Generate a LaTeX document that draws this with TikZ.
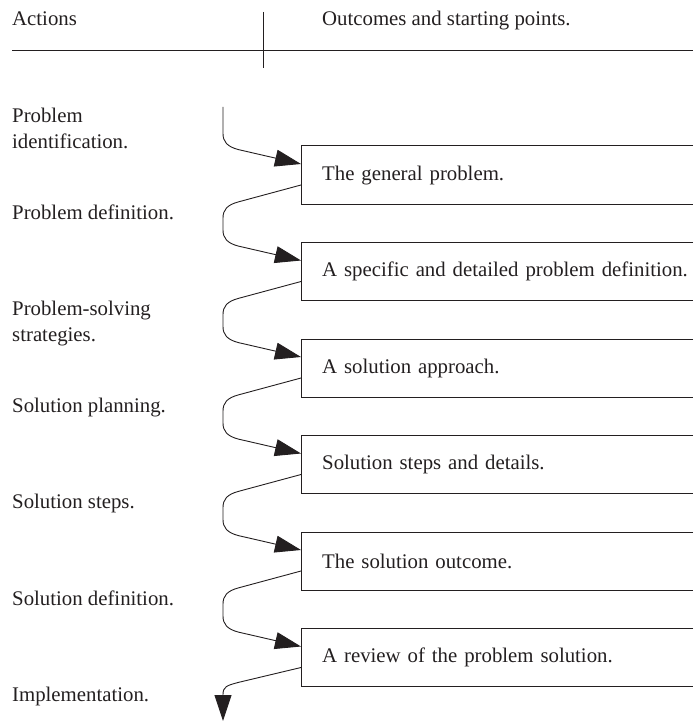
\documentclass[tikz,border=0pt]{standalone}
\usepackage{fontspec}
\setmainfont{Liberation Serif}
\usetikzlibrary{arrows.meta}
\definecolor{ink}{HTML}{231F20}
\begin{document}
\begin{tikzpicture}[x=1pt,y=-1pt,
  every node/.style={font=\fontsize{20.8}{26}\selectfont, text=ink},
  action/.style={anchor=base west, inner sep=0pt, align=left},
  outcome/.style={rectangle, anchor=north west, text width=371pt,
    inner xsep=21pt, inner ysep=0pt, minimum height=58pt, align=left},
  frame/.style={draw=ink, line width=1pt},
  rule/.style={draw=ink, line width=0.9pt},
  flow/.style={draw=ink, line width=0.9pt, -{Triangle[length=26pt,width=17pt]}}]
\useasboundingbox (0,0) rectangle (693,722);

% column headings and rules
\node[action] (hA) at (12,26) {Actions};
\node[action] (hO) at (322,26) {Outcomes and starting points.};
\coordinate (rl) at (12,50);
\coordinate (rr) at (693,50);
\coordinate (vt) at (263,12);
\coordinate (vb) at (263,68);
\draw[rule] (rl) -- (rr);
\draw[rule] (vt) -- (vb);

% actions column
\node[action] (a0) at (12,148.5) {Problem\\identification.};
\node[action] (a1) at (12,219) {Problem definition.};
\node[action] (a2) at (12,341.5) {Problem-solving\\strategies.};
\node[action] (a3) at (12,412) {Solution planning.};
\node[action] (a4) at (12,508.5) {Solution steps.};
\node[action] (a5) at (12,605) {Solution definition.};
\node[action] (a6) at (12,701.5) {Implementation.};

% outcome boxes, open to the right
\coordinate (edge) at (693,0);
\foreach \txt [count=\i from 0] in {The general problem.,
    A specific and detailed problem definition.,
    A solution approach.,
    Solution steps and details.,
    The solution outcome.,
    A review of the problem solution.}{
  \node[outcome] (b\i) at (301,{146+96.5*\i}) {\txt};
  \draw[frame] (b\i.north west -| edge) -- (b\i.north west)
    -- (b\i.south west) -- (b\i.south west -| edge);
}

% flow between the boxes
\coordinate (start) at (223,107);
\draw[flow] (start) -- ++(0,26.5)
  .. controls +(0,8) and +(-11,-3) .. ++(15,16)
  -- ([yshift=-18pt]b0.north west);
\foreach \i in {0,...,4}{
  \pgfmathtruncatemacro\j{\i+1}
  \draw[flow] ([yshift=-39pt]b\i.north west) -- ++(-63,17)
    .. controls +(-11,3) and +(0,-8) .. ++(-15,16)
    -- ++(0,12)
    .. controls +(0,8) and +(-11,-3) .. ++(15,16)
    -- ([yshift=-18pt]b\j.north west);
}
\coordinate (finish) at (223,721);
\draw[flow] ([yshift=-39pt]b5.north west) -- ++(-63,15)
  .. controls +(-11,3) and +(0,-8) .. ++(-15,12)
  -- (finish);
\end{tikzpicture}
\end{document}
